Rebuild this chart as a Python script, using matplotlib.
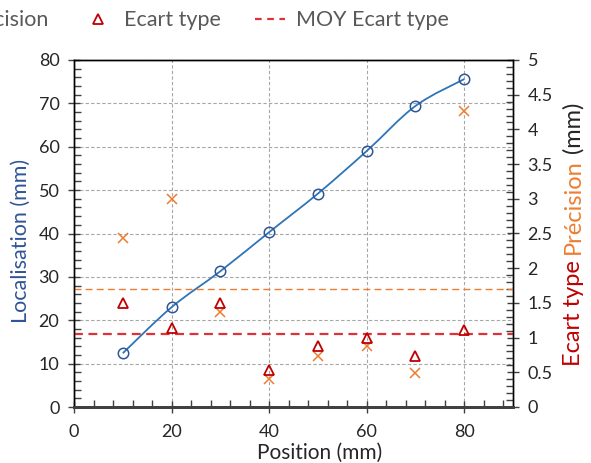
import numpy as np
import matplotlib.pyplot as plt
from matplotlib.path import Path
from matplotlib.patches import PathPatch
from matplotlib.lines import Line2D
from matplotlib.ticker import MultipleLocator, FormatStrFormatter

plt.rcParams["font.family"] = ["Lato", "DejaVu Sans"]

# data
position = [10, 20, 30, 40, 50, 60, 70, 80]
localisation = [12.4, 23.0, 31.3, 40.3, 49.2, 59.0, 69.4, 75.6]
precision = [2.43, 2.99, 1.37, 0.41, 0.73, 0.88, 0.49, 4.27]
ecart_type = [1.50, 1.14, 1.50, 0.54, 0.88, 0.99, 0.74, 1.11]

moy_precision = np.mean(precision)
moy_ecart = np.mean(ecart_type)

BLUE = "#2E75B6"
BLUE_DARK = "#2F5597"
ORANGE = "#ED7D31"
RED = "#C00000"
RED_LINE = "#E0303A"
TXT = "#262626"


def smooth_path(x, y):
    # Excel-style smoothed line: cubic bezier through every point
    pts = np.column_stack([x, y]).astype(float)
    verts = [pts[0]]
    codes = [Path.MOVETO]
    n = len(pts)
    for i in range(n - 1):
        p0 = pts[i - 1] if i > 0 else pts[i]
        p1, p2 = pts[i], pts[i + 1]
        p3 = pts[i + 2] if i + 2 < n else pts[i + 1]
        verts += [p1 + (p2 - p0) / 6, p2 - (p3 - p1) / 6, p2]
        codes += [Path.CURVE4] * 3
    return Path(verts, codes)


fig = plt.figure(figsize=(5.91, 4.63), dpi=100)
W, H = 591, 463
ax = fig.add_axes([74 / W, 1 - 407 / H, (513 - 74) / W, (407 - 60) / H])
ax2 = ax.twinx()

# --- left axis: localisation ---
ax.add_patch(PathPatch(smooth_path(position, localisation), fill=False,
                       edgecolor=BLUE, lw=1.3, zorder=3))
ax.plot(position, localisation, ls="none", marker="o", ms=7.5, mfc="none",
        mec=BLUE_DARK, mew=1.1, zorder=4)

ax.set_xlim(0, 90)
ax.set_ylim(0, 80)
ax.xaxis.set_major_locator(MultipleLocator(20))
ax.xaxis.set_minor_locator(MultipleLocator(4))
ax.yaxis.set_major_locator(MultipleLocator(10))
ax.yaxis.set_minor_locator(MultipleLocator(2))
ax.grid(True, which="major", color="#A6A6A6", ls=(0, (3, 2)), lw=0.8)
ax.set_axisbelow(True)

# --- right axis: precision / ecart type ---
ax2.plot(position, precision, ls="none", marker="x", ms=7, mec=ORANGE,
         mew=1.1, zorder=4)
ax2.plot(position, ecart_type, ls="none", marker="^", ms=7.5, mfc="none",
         mec=RED, mew=1.3, zorder=4)
ax2.axhline(moy_precision, color=ORANGE, ls=(0, (5, 3)), lw=1.0)
ax2.axhline(moy_ecart, color=RED_LINE, ls=(0, (4, 2.5)), lw=1.6)
ax2.set_ylim(0, 5)
ax2.yaxis.set_major_locator(MultipleLocator(0.5))
ax2.yaxis.set_minor_locator(MultipleLocator(0.1))
ax2.yaxis.set_major_formatter(FormatStrFormatter("%g"))

for a in (ax, ax2):
    for s in a.spines.values():
        s.set_color("black")
        s.set_linewidth(1.0)
    a.spines["bottom"].set_color("#404040")
    a.spines["bottom"].set_linewidth(2.0)
    a.tick_params(which="major", direction="inout", length=9, width=1.0,
                  labelsize=13, labelcolor=TXT, color="#404040")
    a.tick_params(which="minor", direction="in", length=5, width=1.0,
                  color="#404040")
ax.tick_params(axis="x", pad=8)
ax.tick_params(axis="y", pad=6)
ax2.tick_params(axis="y", pad=6)

# axis titles
ax.set_xlabel("Position (mm)", fontsize=15, color=TXT, labelpad=0)
ax.xaxis.set_label_coords((320 - 74) / (513 - 74), -0.103)
fig.text(21 / W, 1 - 241 / H, "Localisation (mm)", rotation=90, fontsize=15.5,
         color=BLUE_DARK, ha="center", va="center")

# right title in three colours, stacked bottom to top
fig.canvas.draw()
renderer = fig.canvas.get_renderer()
y_px = 366
for txt, col in [("Ecart type", RED), ("Précision", ORANGE), ("(mm)", TXT)]:
    t = fig.text(573 / W, 1 - y_px / H, txt, rotation=90, fontsize=17,
                 color=col, ha="center", va="bottom")
    bb = t.get_window_extent(renderer)
    y_px -= bb.height + 6

# legend, left part runs off the figure like the original
handles = [
    Line2D([], [], color=BLUE, lw=1.3, marker="o", mfc="none", mec=BLUE_DARK, ms=7.5),
    Line2D([], [], color=ORANGE, ls=(0, (5, 3)), lw=1.0),
    Line2D([], [], ls="none", marker="x", mec=ORANGE, ms=7, mew=1.1),
    Line2D([], [], ls="none", marker="^", mfc="none", mec=RED, ms=7.5, mew=1.3),
    Line2D([], [], color=RED_LINE, ls=(0, (3, 2.5)), lw=1.6),
]
labels = ["Localisation", "MOY Précision", "Précision", "Ecart type", "MOY Ecart type"]
fig.legend(handles, labels, loc="upper right", bbox_to_anchor=(452 / W, 1 - 7 / H),
           ncol=5, frameon=False, fontsize=15.5, labelcolor="#595959",
           handlelength=1.4, handletextpad=0.5, columnspacing=1.6,
           borderaxespad=0.0, borderpad=0.15)

fig.savefig("out.png", dpi=100)
